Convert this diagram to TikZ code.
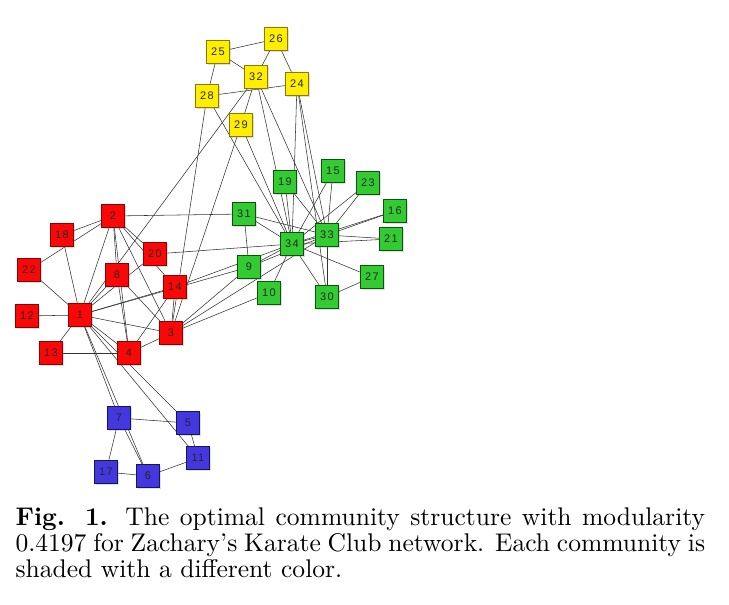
\documentclass[tikz,border=0pt]{standalone}
\usepackage{fontspec}
\newfontfamily\lab[LetterSpace=12]{Liberation Sans}
\usetikzlibrary{shadows}
\pgfdeclarelayer{bg}
\pgfsetlayers{bg,main}
\definecolor{rfill}{RGB}{250,8,8}\definecolor{rdraw}{RGB}{140,0,0}
\definecolor{yfill}{RGB}{255,238,0}\definecolor{ydraw}{RGB}{140,120,0}
\definecolor{gfill}{RGB}{50,204,50}\definecolor{gdraw}{RGB}{10,85,10}
\definecolor{bfill}{RGB}{66,56,222}\definecolor{bdraw}{RGB}{20,20,100}
\tikzset{
  nd/.style={draw, line width=0.8pt, minimum size=23pt, inner sep=0pt,
    font={\lab\fontsize{11}{12}\selectfont}, text=black!85,
    drop shadow={shadow xshift=1pt, shadow yshift=-1pt, opacity=0.25}},
  cr/.style={nd, fill=rfill, draw=rdraw},
  cy/.style={nd, fill=yfill, draw=ydraw},
  cg/.style={nd, fill=gfill, draw=gdraw},
  cb/.style={nd, fill=bfill, draw=bdraw},
  edge/.style={draw=black!80, line width=0.55pt},
  captxt/.style={anchor=base west, inner sep=0pt, scale=2.555, font=\fontsize{10}{12}\selectfont}
}
\begin{document}
\begin{tikzpicture}[x=1pt,y=-1pt]
\useasboundingbox (0,0) rectangle (729,605);
% yellow
\node[cy] (n25) at (218,52) {25};
\node[cy] (n26) at (276,39) {26};
\node[cy] (n32) at (256,77) {32};
\node[cy] (n24) at (297,84) {24};
\node[cy] (n28) at (207,96) {28};
\node[cy] (n29) at (241,125) {29};
% green
\node[cg] (n19) at (285,182) {19};
\node[cg] (n15) at (333,171) {15};
\node[cg] (n23) at (368,183) {23};
\node[cg] (n16) at (395,211) {16};
\node[cg] (n31) at (244,214) {31};
\node[cg] (n33) at (327,235) {33};
\node[cg] (n21) at (391,239) {21};
\node[cg] (n34) at (292,244) {34};
\node[cg] (n9) at (249,267) {9};
\node[cg] (n27) at (372,277) {27};
\node[cg] (n10) at (269,293) {10};
\node[cg] (n30) at (327,297) {30};
% red
\node[cr] (n2) at (113,216) {2};
\node[cr] (n18) at (62,235) {18};
\node[cr] (n22) at (29,270) {22};
\node[cr] (n20) at (155,254) {20};
\node[cr] (n8) at (117,275) {8};
\node[cr] (n14) at (175,287) {14};
\node[cr] (n12) at (27,316) {12};
\node[cr] (n1) at (80,315) {1};
\node[cr] (n3) at (171,333) {3};
\node[cr] (n13) at (51,353) {13};
\node[cr] (n4) at (129,353) {4};
% blue
\node[cb] (n7) at (119,418) {7};
\node[cb] (n5) at (188,423) {5};
\node[cb] (n11) at (198,458) {11};
\node[cb] (n17) at (106,472) {17};
\node[cb] (n6) at (148,476) {6};
\begin{pgfonlayer}{bg}
\foreach \a/\b in {1/2,1/3,1/4,1/5,1/6,1/7,1/8,1/9,1/11,1/12,1/13,1/14,1/18,1/20,1/22,1/32,
  2/3,2/4,2/8,2/14,2/18,2/20,2/22,2/31,
  3/4,3/8,3/9,3/10,3/14,3/28,3/29,3/33,
  4/8,4/13,4/14,5/7,5/11,6/7,6/11,6/17,7/17,
  9/31,9/33,9/34,10/34,14/34,15/33,15/34,16/33,16/34,19/33,19/34,20/34,
  21/33,21/34,23/33,23/34,24/26,24/28,24/30,24/33,24/34,25/26,25/28,25/32,
  26/32,27/30,27/34,28/34,29/32,29/34,30/33,30/34,31/33,31/34,32/33,32/34,33/34}
  \draw[edge] (n\a) -- (n\b);
\end{pgfonlayer}
% caption
\node[captxt] (cap1) at (15,525.5) {\makebox[269.9pt][s]{\textbf{Fig. 1.} The optimal community structure with modularity}};
\node[captxt] (cap2) at (15,551.5) {\makebox[269.9pt][s]{0.4197 for Zachary's Karate Club network. Each community is}};
\node[captxt] (cap3) at (15,577.5) {shaded with a different color.};
\end{tikzpicture}
\end{document}
